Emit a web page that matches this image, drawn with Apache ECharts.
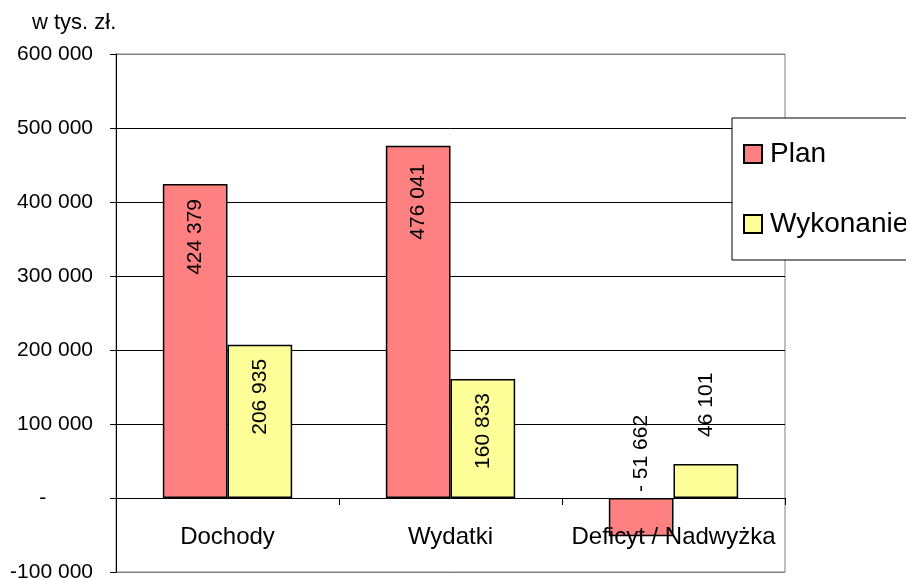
<!DOCTYPE html>
<html>
<head>
<meta charset="utf-8">
<script src="https://cdn.jsdelivr.net/npm/echarts@6/dist/echarts.min.js"></script>
<style>
html, body { margin: 0; padding: 0; background: #fff; }
#chart { width: 906px; height: 578px; }
</style>
</head>
<body>
<div id="chart"></div>
<script>
var categories = ['Dochody', 'Wydatki', 'Deficyt / Nadwyżka'];
var planValues = [424379, 476041, -51662];
var wykonanieValues = [206935, 160833, 46101];
var seriesNames = ['Plan', 'Wykonanie'];
var unitLabel = 'w tys. zł.';

var FONT = '"Liberation Sans", Arial, sans-serif';

function fmt(v) {
    // accounting style: zero shown as a dash set in from the right
    if (v === 0) return '-\u00a0\u00a0\u00a0\u00a0\u00a0\u00a0\u00a0\u00a0';
    var s = Math.abs(v).toString().replace(/\B(?=(\d{3})+(?!\d))/g, ' ');
    return v < 0 ? '-' + s : s;
}
function fmtLabel(v) {
    var s = Math.abs(v).toString().replace(/\B(?=(\d{3})+(?!\d))/g, ' ');
    return v < 0 ? '- ' + s : s;
}

// label placement per bar: inside bars the text hangs down from the top,
// above bars it grows upward
function barData(values, positions, distances) {
    return values.map(function (v, i) {
        var above = positions[i] === 'top';
        return {
            value: v,
            label: {
                position: positions[i],
                distance: distances[i],
                align: above ? 'left' : 'right',
                verticalAlign: 'middle'
            }
        };
    });
}

var labelBase = {
    show: true,
    rotate: 90,
    fontFamily: FONT,
    fontSize: 21,
    color: '#000',
    formatter: function (p) { return fmtLabel(p.value); }
};

var myChart = echarts.init(document.getElementById('chart'));

myChart.setOption({
    animation: false,
    backgroundColor: '#fff',
    title: {
        text: unitLabel,
        left: 32,
        top: 12,
        padding: 0,
        textStyle: { fontFamily: FONT, fontSize: 22, fontWeight: 'normal', color: '#000' }
    },
    grid: {
        left: 116,
        right: 121,
        top: 54,
        bottom: 6,
        outerBoundsMode: 'none',
        containLabel: false,
        show: true,
        borderColor: '#808080',
        borderWidth: 1,
        backgroundColor: 'transparent'
    },
    legend: {
        orient: 'vertical',
        left: 732,
        top: 118,
        data: seriesNames,
        itemWidth: 18,
        itemHeight: 18,
        itemGap: 42,
        padding: [22, 40, 22, 11],
        backgroundColor: '#fff',
        borderColor: '#000',
        borderWidth: 1,
        icon: 'rect',
        textStyle: { fontFamily: FONT, fontSize: 28, color: '#000', lineHeight: 28, padding: [0, 0, 0, 3] }
    },
    xAxis: {
        type: 'category',
        data: categories,
        z: 3,
        axisLine: { onZero: true, lineStyle: { color: '#000', width: 1 } },
        axisTick: { show: true, length: 7, lineStyle: { color: '#000' } },
        // labels are placed from the grid bottom, pull them up under the zero line
        axisLabel: { interval: 0, margin: -47, fontFamily: FONT, fontSize: 24, color: '#000' },
        splitLine: { show: false }
    },
    yAxis: {
        type: 'value',
        min: -100000,
        max: 600000,
        interval: 100000,
        axisLine: { show: true, lineStyle: { color: '#000', width: 1 } },
        axisTick: { show: true, length: 6, lineStyle: { color: '#000' } },
        axisLabel: {
            margin: 23,
            fontFamily: FONT,
            fontSize: 21,
            color: '#000',
            formatter: fmt
        },
        splitLine: {
            show: true,
            lineStyle: {
                color: ['#808080', '#000', '#000', '#000', '#000', '#000', '#000', '#808080'],
                width: 1
            }
        }
    },
    series: [
        {
            name: seriesNames[0],
            type: 'bar',
            barGap: '0%',
            barCategoryGap: '42%',
            itemStyle: { color: '#FF8080', borderColor: '#000', borderWidth: 1.5 },
            label: labelBase,
            data: barData(planValues, ['insideTop', 'insideTop', 'top'], [15, 18, 6])
        },
        {
            name: seriesNames[1],
            type: 'bar',
            itemStyle: { color: '#FFFF99', borderColor: '#000', borderWidth: 1.5 },
            label: labelBase,
            data: barData(wykonanieValues, ['insideTop', 'insideTop', 'top'], [14, 14, 27])
        }
    ]
});
</script>
</body>
</html>
